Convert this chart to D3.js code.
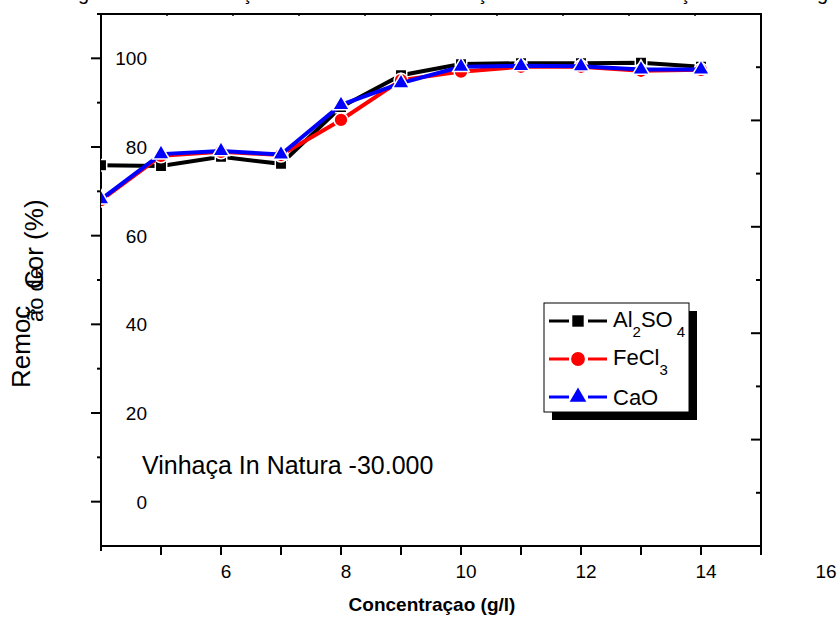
<!DOCTYPE html>
<html>
<head>
<meta charset="utf-8">
<script src="https://cdn.jsdelivr.net/npm/d3@7"></script>
<style>
  html, body { margin: 0; padding: 0; background: #fff; }
  svg { display: block; font-family: "Liberation Sans", Arial, sans-serif; }
</style>
</head>
<body>
<script>
// ---- data ----
const concentrations = [4, 5, 6, 7, 8, 9, 10, 11, 12, 13, 14];
const al2so4 = [75.9, 75.7, 77.8, 76.2, 89.0, 96.2, 98.7, 98.9, 98.9, 99.0, 98.1];
const fecl3  = [68.0, 78.0, 78.9, 78.2, 86.1, 95.1, 97.0, 98.1, 98.1, 97.2, 97.4];
const cao    = [68.2, 78.4, 79.1, 78.3, 89.5, 94.4, 98.1, 98.3, 98.2, 97.5, 97.5];
const xTickLabels = [6, 8, 10, 12, 14, 16];
const yTickLabels = [0, 20, 40, 60, 80, 100];
const seriesNames = ["Al2SO4", "FeCl3", "CaO"];

const W = 838, H = 619;
const svg = d3.select("body").append("svg").attr("width", W).attr("height", H);

const pL = 101, pR = 761, pT = 14, pB = 546;
const x = d3.scaleLinear().domain([4, 15]).range([pL, pR]);
const y = d3.scaleLinear().domain([-10, 110]).range([pB, pT]);
const yR = d3.scaleLinear().domain([0, 5]).range([pB, pT]);
const xT = d3.scaleLinear().domain([0, 10]).range([pL, pR]);

// top caption fragments (cut off by the page edge, as in the reference)
const frag = svg.append("text").attr("y", 0).attr("font-size", 20).attr("fill", "#000");
[["g", 78], ["ç", 242], ["ç", 477], ["ç", 680], ["g", 817]].forEach(([c, px]) =>
  frag.append("tspan").attr("x", px).text(c));

const axisG = svg.append("g").attr("stroke", "#000").attr("stroke-width", 2).attr("fill", "none");
// frame lines
axisG.append("line").attr("x1", pL).attr("x2", pL).attr("y1", pT - 1).attr("y2", pB + 1);
axisG.append("line").attr("x1", pR).attr("x2", pR).attr("y1", pT - 1).attr("y2", pB + 1);
axisG.append("line").attr("x1", pL - 1).attr("x2", pR + 1).attr("y1", pB).attr("y2", pB);
axisG.append("line").attr("x1", pL - 1).attr("x2", pR + 1).attr("y1", pT).attr("y2", pT);

// left axis ticks
d3.range(0, 101, 10).forEach(v => {
  const major = v % 20 === 0;
  axisG.append("line").attr("x1", pL - (major ? 10 : 4)).attr("x2", pL)
    .attr("y1", y(v)).attr("y2", y(v));
});
axisG.append("line").attr("x1", pL - 4).attr("x2", pL).attr("y1", y(110)).attr("y2", y(110));

// right axis ticks (inward)
d3.range(0.5, 5, 0.5).forEach(v => {
  const major = Number.isInteger(v);
  axisG.append("line").attr("x1", pR - (major ? 10 : 5)).attr("x2", pR)
    .attr("y1", yR(v)).attr("y2", yR(v));
});

// top axis ticks
d3.range(1, 10).forEach(v => {
  axisG.append("line").attr("x1", xT(v)).attr("x2", xT(v)).attr("y1", pT).attr("y2", pT + 2)
    .attr("stroke-width", 1.5);
});

// bottom axis ticks
d3.range(4, 16).forEach(v => {
  axisG.append("line").attr("x1", x(v)).attr("x2", x(v)).attr("y1", pB)
    .attr("y2", pB + (v === 4 ? 5 : 9));
});

// tick labels
svg.append("g").selectAll("text").data(yTickLabels).join("text")
  .attr("x", 147).attr("y", d => y(d) + 7).attr("text-anchor", "end")
  .attr("font-size", 19).text(d => d);
svg.append("g").selectAll("text").data(xTickLabels).join("text")
  .attr("x", d => x(d) + 5).attr("y", 578).attr("text-anchor", "middle")
  .attr("font-size", 19).text(d => d);

// axis titles
svg.append("text").attr("x", 432).attr("y", 611).attr("text-anchor", "middle")
  .attr("font-size", 19).attr("font-weight", "bold").text("Concentraçao (g/l)");
svg.append("text").attr("transform", "translate(30,388) rotate(-90)")
  .attr("font-size", 26).text("Remoç");
svg.append("text").attr("transform", "translate(43,322) rotate(-90)")
  .attr("font-size", 22).text("ão de");
svg.append("text").attr("transform", "translate(43,289) rotate(-90)")
  .attr("font-size", 26).text("Cor (%)");

svg.append("text").attr("x", 142).attr("y", 474).attr("font-size", 25)
  .text("Vinhaça In Natura -30.000");

// clip
svg.append("clipPath").attr("id", "plotclip").append("rect")
  .attr("x", pL).attr("y", pT).attr("width", pR - pL).attr("height", pB - pT);

const series = [
  { name: seriesNames[0], vals: al2so4, color: "#000000", sym: d3.symbolSquare, size: 130 },
  { name: seriesNames[1], vals: fecl3, color: "#ff0000", sym: d3.symbolCircle, size: 150 },
  { name: seriesNames[2], vals: cao, color: "#0000ff", sym: d3.symbolTriangle, size: 120 }
];

const plot = svg.append("g").attr("clip-path", "url(#plotclip)");
const line = d3.line().x(d => x(d[0])).y(d => y(d[1]));
series.forEach(s => {
  const pts = concentrations.map((c, i) => [c, s.vals[i]]);
  const g = plot.append("g");
  g.append("path").attr("d", line(pts)).attr("fill", "none")
    .attr("stroke", s.color).attr("stroke-width", 4);
  g.selectAll("path.m").data(pts).join("path").attr("class", "m")
    .attr("transform", d => `translate(${x(d[0])},${y(d[1])})`)
    .attr("d", d3.symbol().type(s.sym).size(s.size)())
    .attr("fill", s.color).attr("stroke", "#fff").attr("stroke-width", 1.5);
});

// legend
const lg = svg.append("g");
lg.append("rect").attr("x", 552).attr("y", 311).attr("width", 145).attr("height", 109).attr("fill", "#000");
lg.append("rect").attr("x", 544).attr("y", 303).attr("width", 145).attr("height", 109)
  .attr("fill", "#fff").attr("stroke", "#000").attr("stroke-width", 1);
const rows = [321, 359, 397];
series.forEach((s, i) => {
  const cy = rows[i];
  lg.append("line").attr("x1", 549).attr("x2", 569).attr("y1", cy).attr("y2", cy)
    .attr("stroke", s.color).attr("stroke-width", 3);
  lg.append("line").attr("x1", 588).attr("x2", 607).attr("y1", cy).attr("y2", cy)
    .attr("stroke", s.color).attr("stroke-width", 3);
  lg.append("path").attr("transform", `translate(578,${cy})`)
    .attr("d", d3.symbol().type(s.sym).size(s.size)()).attr("fill", s.color);
});
function legText(yb, parts) {
  const t = lg.append("text").attr("x", 613).attr("y", yb).attr("font-size", 22);
  parts.forEach(p => {
    if (p.sub) t.append("tspan").attr("font-size", 15).attr("dy", 10).attr("dx", p.dx || 0).text(p.t);
    else t.append("tspan").attr("dy", p.up ? -10 : 0).text(p.t);
  });
}
legText(327, [{ t: "Al" }, { t: "2", sub: true }, { t: "SO", up: true }, { t: "4", sub: true, dx: 4 }]);
legText(365, [{ t: "FeCl" }, { t: "3", sub: true }]);
legText(405, [{ t: "CaO" }]);
</script>
</body>
</html>
